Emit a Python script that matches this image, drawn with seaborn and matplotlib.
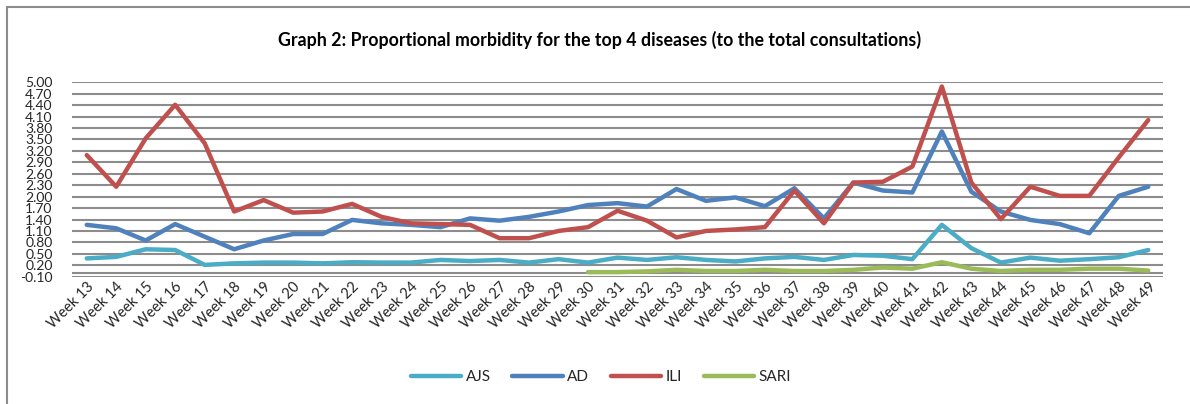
import matplotlib
matplotlib.use("Agg")
import matplotlib.pyplot as plt
import seaborn as sns
import pandas as pd
import numpy as np
from matplotlib.lines import Line2D

weeks = [f"Week {w}" for w in range(13, 50)]

ajs = [0.38, 0.42, 0.62, 0.60, 0.21, 0.25, 0.27, 0.27, 0.25, 0.28, 0.27, 0.27,
       0.34, 0.31, 0.34, 0.27, 0.36, 0.27, 0.40, 0.34, 0.41, 0.34, 0.30, 0.38,
       0.42, 0.34, 0.47, 0.45, 0.36, 1.26, 0.65, 0.27, 0.40, 0.32, 0.36, 0.41, 0.60]
ad = [1.26, 1.17, 0.85, 1.28, 0.95, 0.62, 0.85, 1.02, 1.02, 1.39, 1.30, 1.26,
      1.20, 1.43, 1.37, 1.47, 1.61, 1.78, 1.83, 1.74, 2.20, 1.89, 1.98, 1.75,
      2.22, 1.43, 2.37, 2.16, 2.11, 3.71, 2.13, 1.61, 1.39, 1.28, 1.04, 2.02, 2.26]
ili = [3.09, 2.26, 3.53, 4.41, 3.40, 1.61, 1.91, 1.58, 1.61, 1.81, 1.47, 1.30,
       1.28, 1.26, 0.91, 0.91, 1.10, 1.20, 1.63, 1.37, 0.93, 1.10, 1.14, 1.20,
       2.16, 1.30, 2.37, 2.39, 2.79, 4.89, 2.37, 1.41, 2.26, 2.02, 2.02, 3.03, 4.01]
sari = [None] * 17 + [0.02, 0.02, 0.04, 0.08, 0.05, 0.05, 0.08, 0.05, 0.05, 0.08,
                      0.14, 0.11, 0.28, 0.11, 0.05, 0.08, 0.08, 0.11, 0.11, 0.06]

series_names = ["AJS", "AD", "ILI", "SARI"]
colors = ["#4BACC6", "#4F81BD", "#C0504D", "#9BBB59"]
yticks = [round(-0.10 + 0.30 * i, 2) for i in range(18)]

sns.set_theme(style="white")
plt.rcParams['font.family'] = ['Lato', 'DejaVu Sans']

fig = plt.figure(figsize=(11.9, 4.04), dpi=100)
ax = fig.add_axes([72 / 1190, 1 - 276.7 / 404, (1163 - 72) / 1190, (276.7 - 82.3) / 404])

df = pd.DataFrame({"week": weeks, "AJS": ajs, "AD": ad, "ILI": ili, "SARI": sari})
df["pos"] = np.arange(len(weeks))
long = df.melt(id_vars=["week", "pos"], value_vars=series_names,
               var_name="series", value_name="value").dropna()
long["value"] = long["value"].astype(float)

# gridlines
for t in yticks:
    ax.axhline(t, color="#8C8C8C", lw=1.5, zorder=0)
ax.axhline(0, color="#8C8C8C", lw=1.5, zorder=0)

sns.lineplot(data=long, x="pos", y="value", hue="series", hue_order=series_names,
             palette=colors, lw=3.2, ax=ax, legend=False, sort=True,
             solid_capstyle="round", solid_joinstyle="round", zorder=3)

ax.set_xlim(-0.5, len(weeks) - 0.5)
ax.set_ylim(-0.10, 5.00)
ax.set_yticks(yticks)
ax.set_yticklabels([f"{t:.2f}" for t in yticks], fontsize=10)
ax.set_xticks(range(len(weeks)))
ax.set_xticklabels(weeks, rotation=45, ha="right", rotation_mode="anchor", fontsize=10.5)
ax.tick_params(axis="both", length=0, pad=2)
ax.tick_params(axis="y", pad=14)
ax.set_xlabel("")
ax.set_ylabel("")
for s in ax.spines.values():
    s.set_visible(False)

fig.text(600 / 1190, 1 - 40 / 404,
         "Graph 2: Proportional morbidity for the top 4 diseases (to the total consultations)",
         ha="center", va="center", fontsize=12.8, fontweight="bold", color="black")

handles = [Line2D([0], [0], color=c, lw=3.2, solid_capstyle="round") for c in colors]
fig.legend(handles, series_names, loc="center", bbox_to_anchor=(601 / 1190, 1 - 377 / 404),
           ncol=4, frameon=False, fontsize=11, handlelength=3.3, handletextpad=0.3,
           columnspacing=1.4)

# chart border (top and left)
fig.add_artist(Line2D([6.5 / 1190, 1.0], [1 - 6.5 / 404, 1 - 6.5 / 404],
                      transform=fig.transFigure, color="#8C8C8C", lw=1.5))
fig.add_artist(Line2D([6.5 / 1190, 6.5 / 1190], [0.0, 1 - 6.5 / 404],
                      transform=fig.transFigure, color="#8C8C8C", lw=1.5))

fig.savefig("out.png", dpi=100, facecolor="white")
